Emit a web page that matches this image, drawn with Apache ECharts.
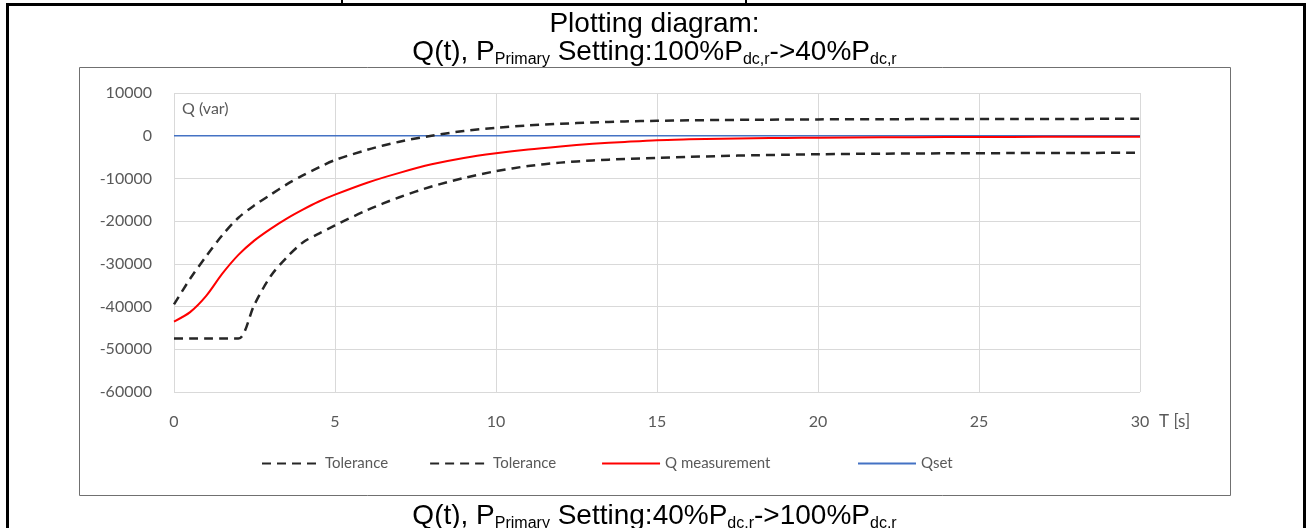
<!DOCTYPE html>
<html>
<head>
<meta charset="utf-8">
<title>Q(t) plotting diagram</title>
<script src="https://cdn.jsdelivr.net/npm/echarts@6/dist/echarts.min.js"></script>
<style>
  html, body { margin: 0; padding: 0; background: #fff; }
  #chart { width: 1309px; height: 528px; }
</style>
</head>
<body>
<div id="chart"></div>
<script>
// time axis (s)
var timeS = [0, 0.5, 1, 1.5, 2, 2.5, 3, 3.5, 4, 4.5, 5, 6, 7, 8, 9, 10, 11, 12, 13, 14, 15, 16, 17, 18, 19, 20, 22, 24, 26, 28, 30]

// Q values (var)
var toleranceUpper = [-39500, -33500, -28200, -23300, -19200, -16300, -13800, -11400, -9300, -7400, -5700, -3300, -1400, 0, 1100, 1850, 2400, 2800, 3100, 3350, 3500, 3600, 3680, 3740, 3780, 3820, 3870, 3900, 3920, 3940, 3950]
var toleranceLower = [-47500, -47500, -47500, -47500, -47500, -39500, -32900, -28500, -25000, -22900, -21000, -17400, -14400, -11900, -9900, -8300, -7100, -6300, -5800, -5450, -5200, -4950, -4750, -4580, -4450, -4330, -4200, -4120, -4070, -4030, -4000]
var qMeasurement = [-43500, -41300, -37500, -32300, -27900, -24500, -21800, -19400, -17300, -15400, -13800, -11000, -8700, -6700, -5200, -4100, -3200, -2500, -1900, -1450, -1050, -850, -700, -600, -520, -460, -380, -320, -280, -250, -230]
var qsetTime = [0, 30]
var qsetValue = [0, 0]

// axis ticks
var xTicks = [0, 5, 10, 15, 20, 25, 30]
var yTicks = [-60000, -50000, -40000, -30000, -20000, -10000, 0, 10000]

function pairs(xs, ys) {
  return xs.map(function(x, i) { return [x, ys[i]] })
}

var labelFont = 'Lato'
var labelColor = '#595959'
var titleRich = {
  m: { fontFamily: 'Liberation Sans', fontSize: 28, fontWeight: 'normal', lineHeight: 32, color: '#000' },
  s: { fontFamily: 'Liberation Sans', fontSize: 16, fontWeight: 'normal', lineHeight: 16, color: '#000', verticalAlign: 'bottom' }
}
var legendText = { fontFamily: labelFont, fontSize: 15, color: labelColor }

var chart = echarts.init(document.getElementById('chart'), null, { renderer: 'canvas' })

chart.setOption({
  animation: false,
  backgroundColor: '#fff',
  title: [
    {
      text: 'Plotting diagram:',
      left: 'center',
      top: 4,
      textStyle: { fontFamily: 'Liberation Sans', fontSize: 28, fontWeight: 'normal', lineHeight: 30, color: '#000' }
    },
    {
      text: '{m|Q(t), P}{s|Primary}{m| Setting:100%P}{s|dc,r}{m|->40%P}{s|dc,r}',
      left: 'center',
      top: 31,
      textStyle: { rich: titleRich }
    },
    {
      text: '{m|Q(t), P}{s|Primary}{m| Setting:40%P}{s|dc,r}{m|->100%P}{s|dc,r}',
      left: 'center',
      top: 495,
      textStyle: { rich: titleRich }
    }
  ],
  // table lines + picture frame
  graphic: [
    { id: 'topLine', type: 'rect', shape: { x: 6, y: 3, width: 1300, height: 3 }, style: { fill: '#000' } },
    { id: 'leftLine', type: 'rect', shape: { x: 6, y: 3, width: 3, height: 525 }, style: { fill: '#000' } },
    { id: 'rightLine', type: 'rect', shape: { x: 1303, y: 3, width: 3, height: 525 }, style: { fill: '#000' } },
    { id: 'div1', type: 'rect', shape: { x: 341, y: 0, width: 2, height: 4 }, style: { fill: '#000' } },
    { id: 'div2', type: 'rect', shape: { x: 745, y: 0, width: 2, height: 4 }, style: { fill: '#000' } },
    { id: 'frame', type: 'rect', shape: { x: 79.5, y: 67.5, width: 1151, height: 428 }, style: { fill: 'none', stroke: '#707070', lineWidth: 1 } }
  ],
  grid: { left: 174, right: 169, top: 93, bottom: 136 },
  legend: [
    {
      left: 256,
      top: 451,
      itemWidth: 58,
      itemHeight: 10,
      itemGap: 41,
      itemStyle: { opacity: 0 },
      textStyle: legendText,
      data: ['Tolerance', 'Tolerance ', 'Q measurement']
    },
    {
      left: 852,
      top: 451,
      itemWidth: 58,
      itemHeight: 10,
      itemStyle: { opacity: 0 },
      textStyle: legendText,
      data: ['Qset']
    }
  ],
  xAxis: {
    type: 'value',
    min: xTicks[0],
    max: xTicks[xTicks.length - 1],
    interval: 5,
    axisLine: { show: false, onZero: false },
    axisTick: { show: false },
    axisLabel: { margin: 22, fontFamily: labelFont, fontSize: 16, color: labelColor },
    splitLine: { show: true, lineStyle: { color: '#d9d9d9', width: 1 } }
  },
  yAxis: {
    type: 'value',
    min: yTicks[0],
    max: yTicks[yTicks.length - 1],
    interval: 10000,
    name: 'Q (var)',
    nameLocation: 'end',
    nameGap: -24,
    nameTextStyle: { fontFamily: labelFont, fontSize: 16, color: labelColor, align: 'left', padding: [0, 0, 0, 8] },
    axisLine: { show: false },
    axisTick: { show: false },
    axisLabel: {
      margin: 22,
      fontFamily: labelFont,
      fontSize: 16,
      color: labelColor,
      formatter: function(v) { return String(v) }
    },
    splitLine: { show: true, lineStyle: { color: '#d9d9d9', width: 1 } }
  },
  series: [
    {
      name: 'Tolerance',
      type: 'line',
      data: pairs(timeS, toleranceUpper),
      smooth: 0.3,
      symbol: 'none',
      lineStyle: { color: '#262626', width: 2.5, type: [9, 6] },
      itemStyle: { color: '#262626' }
    },
    {
      name: 'Tolerance ',
      type: 'line',
      data: pairs(timeS, toleranceLower),
      smooth: 0.3,
      symbol: 'none',
      lineStyle: { color: '#262626', width: 2.5, type: [9, 6] },
      itemStyle: { color: '#262626' }
    },
    {
      name: 'Q measurement',
      type: 'line',
      data: pairs(timeS, qMeasurement),
      smooth: 0.3,
      symbol: 'none',
      lineStyle: { color: '#ff0000', width: 2 },
      itemStyle: { color: '#ff0000' }
    },
    {
      name: 'Qset',
      type: 'line',
      data: pairs(qsetTime, qsetValue),
      symbol: 'none',
      z: 1,
      lineStyle: { color: '#4472c4', width: 1.5 },
      itemStyle: { color: '#4472c4' }
    }
  ]
})

// unit text "T [s]" next to the last x label
var xEnd = chart.convertToPixel({ gridIndex: 0 }, [xTicks[xTicks.length - 1], yTicks[0]])
chart.setOption({
  graphic: [{
    id: 'xName',
    type: 'text',
    x: xEnd[0] + 19,
    y: xEnd[1] + 30,
    style: { text: 'T [s]', fontFamily: labelFont, fontSize: 17, fill: labelColor, verticalAlign: 'middle' }
  }]
})
</script>
</body>
</html>
